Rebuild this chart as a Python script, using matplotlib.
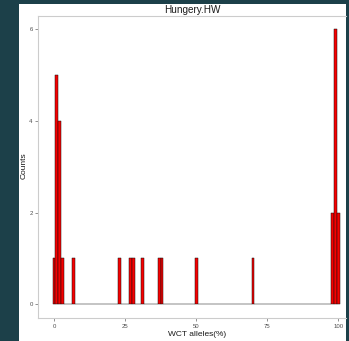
import numpy as np
import matplotlib
matplotlib.use("Agg")
import matplotlib.pyplot as plt
from matplotlib.patches import Rectangle

# Percentage of WCT alleles per individual (one entry per fish)
wct_percent = [0,
               1, 1, 1, 1, 1,
               2, 2, 2, 2,
               3, 7, 23, 27, 28, 31, 37, 38, 50, 70,
               98, 98,
               99, 99, 99, 99, 99, 99,
               100, 100]
bin_edges = np.arange(-0.5, 101.5, 1.0)
x_ticks = [0, 25, 50, 75, 100]
y_ticks = [0, 2, 4, 6]
title = "Hungery.HW"
x_label = "WCT alleles(%)"
y_label = "Counts"

W, H = 349, 341
fig = plt.figure(figsize=(W / 100, H / 100), dpi=100)
fig.patch.set_facecolor("#1c4049")

# white card behind the plot
fig.add_artist(Rectangle((19 / W, 0), (346 - 19) / W, (341 - 4) / H,
                         transform=fig.transFigure, facecolor="white",
                         edgecolor="none", zorder=0))

plt.rcParams["font.family"] = ["Liberation Sans", "DejaVu Sans"]

ax_w_px = 346 - 38.2
ax_h_px = 318 - 15.5
ax = fig.add_axes([38.2 / W, (H - 318) / H, ax_w_px / W, ax_h_px / H])
ax.set_facecolor("white")

ax.hist(wct_percent, bins=bin_edges, color="#f50000", edgecolor="#111111",
        linewidth=0.35)

ax.set_xlim(-5.55, 102.7)
ax.set_ylim(-0.3, 6.3)
ax.set_xticks(x_ticks)
ax.set_yticks(y_ticks)
ax.set_xticklabels([str(t) for t in x_ticks])
ax.set_yticklabels([str(t) for t in y_ticks])

for side in ["left", "top", "bottom"]:
    ax.spines[side].set_color("#cccccc")
    ax.spines[side].set_linewidth(0.8)
ax.spines["right"].set_visible(False)

ax.tick_params(axis="both", length=2.5, width=0.6, color="#7f7f7f",
               labelsize=4.3, labelcolor="#4d4d4d", pad=1.5)

ax.set_title(title, fontsize=7.2, color="#1a1a1a", pad=-1.2)
ax.set_xlabel(x_label, fontsize=6, color="#1a1a1a")
ax.set_ylabel(y_label, fontsize=6, color="#1a1a1a")
ax.xaxis.set_label_coords((197 - 38.2) / ax_w_px, (318 - 331) / ax_h_px)
ax.yaxis.set_label_coords((28 - 38.2) / ax_w_px, (318 - 166) / ax_h_px)

fig.savefig("out.png", dpi=100, facecolor=fig.get_facecolor())
